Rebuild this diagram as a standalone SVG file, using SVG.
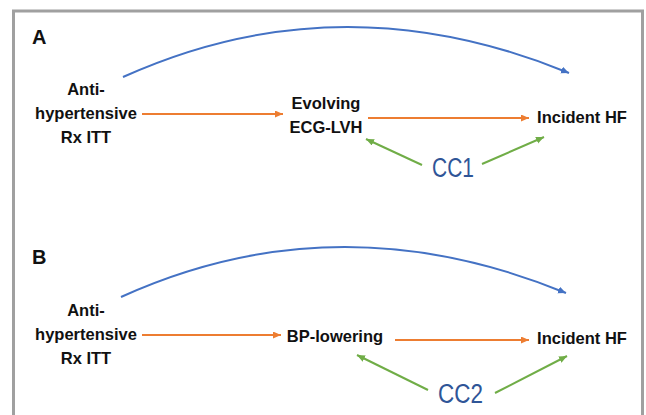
<svg xmlns="http://www.w3.org/2000/svg" width="646" height="415" viewBox="0 0 646 415">
<style>
.lbl{font-family:"Liberation Sans",Arial,sans-serif;font-weight:bold;font-size:16.5px;fill:#111;text-anchor:middle}
.pan{font-family:"Liberation Sans",Arial,sans-serif;font-weight:bold;font-size:20px;fill:#111}
.cc{font-family:"Liberation Sans",Arial,sans-serif;font-size:27px;fill:#2F5597}
.blue{fill:none;stroke:#4472C4;stroke-width:2}
.orange{fill:none;stroke:#ED7D31;stroke-width:2}
.green{fill:none;stroke:#70AD47;stroke-width:2}
</style>
<defs>
<marker id="mb" markerUnits="userSpaceOnUse" markerWidth="10" markerHeight="8" refX="8" refY="3.5" orient="auto"><path d="M0,0 L8,3.5 L0,7 z" fill="#4472C4"/></marker>
<marker id="mo" markerUnits="userSpaceOnUse" markerWidth="10" markerHeight="8" refX="8" refY="3.5" orient="auto"><path d="M0,0 L8,3.5 L0,7 z" fill="#ED7D31"/></marker>
<marker id="mg" markerUnits="userSpaceOnUse" markerWidth="10" markerHeight="8" refX="8" refY="3.5" orient="auto"><path d="M0,0 L8,3.5 L0,7 z" fill="#70AD47"/></marker>
</defs>
<rect x="0" y="0" width="646" height="415" fill="#fff"/>
<rect id="frame" x="13.5" y="11" width="629" height="420" fill="none" stroke="#a0a0a0" stroke-width="3"/>
<text class="pan" x="32" y="44">A</text>
<text class="pan" x="32" y="264">B</text>
<g id="connectors">
<path class="blue" d="M123,77 Q340,-21 569,73" marker-end="url(#mb)"/>
<line class="orange" x1="142" y1="114" x2="283" y2="114" marker-end="url(#mo)"/>
<line class="orange" x1="368" y1="118" x2="529" y2="118" marker-end="url(#mo)"/>
<line class="green" x1="422" y1="165" x2="366" y2="139" marker-end="url(#mg)"/>
<line class="green" x1="482" y1="164" x2="544" y2="137" marker-end="url(#mg)"/>
<path class="blue" d="M121,297 Q337,199 566,293" marker-end="url(#mb)"/>
<line class="orange" x1="142" y1="335" x2="281" y2="335" marker-end="url(#mo)"/>
<line class="orange" x1="395" y1="340" x2="529" y2="340" marker-end="url(#mo)"/>
<line class="green" x1="428" y1="390" x2="357" y2="355" marker-end="url(#mg)"/>
<line class="green" x1="495" y1="393" x2="567" y2="356" marker-end="url(#mg)"/>
</g>
<g id="A-treatment"><text class="lbl" x="86"><tspan x="86" y="95">Anti-</tspan><tspan x="86" y="119">hypertensive</tspan><tspan x="86" y="143">Rx ITT</tspan></text></g>
<g id="A-mediator"><text class="lbl"><tspan x="326" y="109">Evolving</tspan><tspan x="326" y="133">ECG-LVH</tspan></text></g>
<g id="A-outcome"><text class="lbl" x="582" y="123">Incident HF</text></g>
<g id="A-cc"><text class="cc" x="432" y="177" textLength="42" lengthAdjust="spacingAndGlyphs">CC1</text></g>
<g id="B-treatment"><text class="lbl"><tspan x="86" y="316">Anti-</tspan><tspan x="86" y="340">hypertensive</tspan><tspan x="86" y="364">Rx ITT</tspan></text></g>
<g id="B-mediator"><text class="lbl" x="335" y="342">BP-lowering</text></g>
<g id="B-outcome"><text class="lbl" x="582" y="344">Incident HF</text></g>
<g id="B-cc"><text class="cc" x="438" y="403" textLength="45" lengthAdjust="spacingAndGlyphs">CC2</text></g>
</svg>
